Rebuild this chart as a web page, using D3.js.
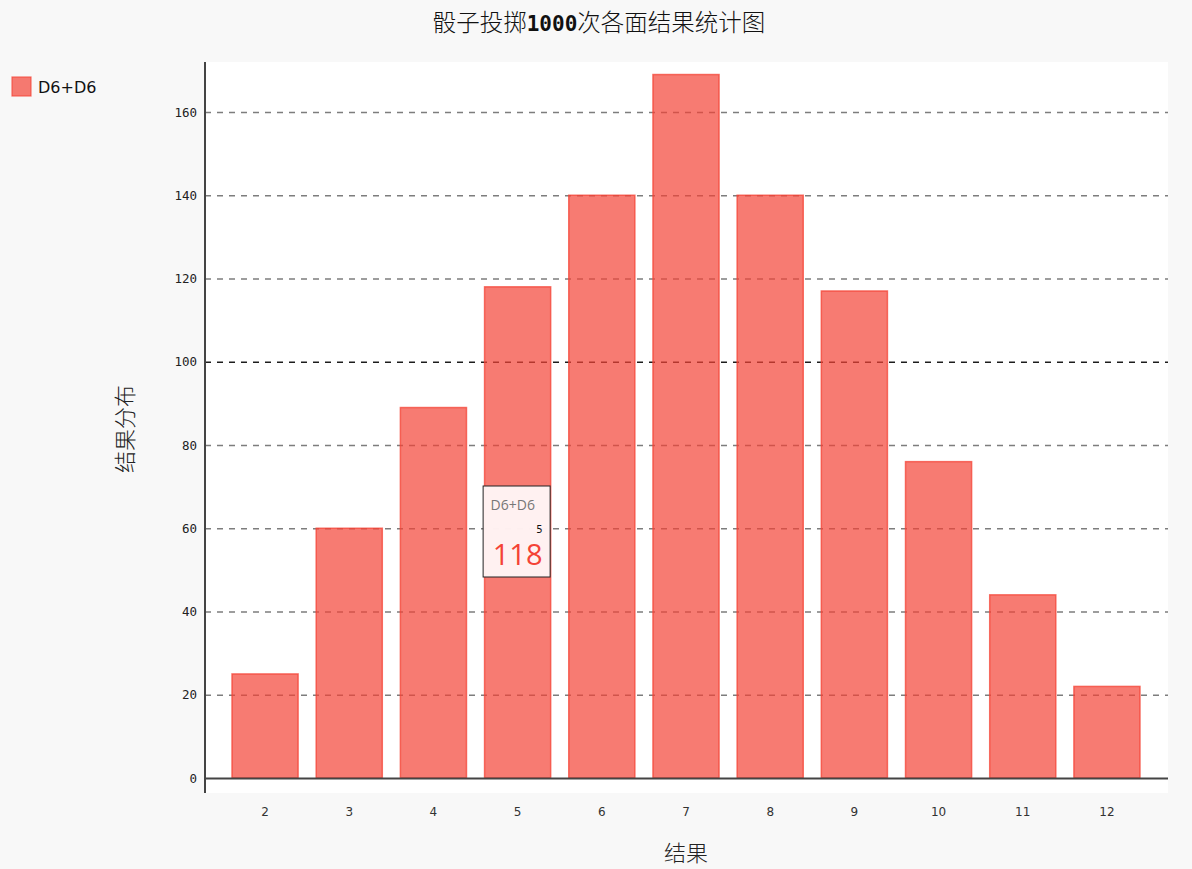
<!DOCTYPE html>
<html><head><meta charset="utf-8">
<script src="https://cdn.jsdelivr.net/npm/d3@7"></script>
<style>body{margin:0;background:#f8f8f8;}</style>
</head><body>
<script>
const categories = ["2","3","4","5","6","7","8","9","10","11","12"];
const values = [25,60,89,118,140,169,140,117,76,44,22];
const yTicks = [0,20,40,60,80,100,120,140,160];
const seriesName = "D6+D6";
const titleParts = ["骰子投掷","1000","次各面结果统计图"];
const xTitle = "结果";
const yTitle = "结果分布";

const W=1192,H=869;
const svg=d3.select("body").append("svg").attr("width",W).attr("height",H).style("background","#f8f8f8");
const plot={x0:205,x1:1168,y0:62,y1:793};
svg.append("rect").attr("x",plot.x0).attr("y",plot.y0).attr("width",plot.x1-plot.x0).attr("height",plot.y1-plot.y0).attr("fill","#ffffff");

const y=d3.scaleLinear().domain([0,160]).range([778,112]);
const x=d3.scaleBand().domain(categories).range([223,1149]).paddingInner(0.215).paddingOuter(0.107);

// grid
const grid=svg.append("g");
yTicks.forEach(t=>{
  if(t===0) return;
  grid.append("line").attr("x1",plot.x0).attr("x2",plot.x1).attr("y1",y(t)+0.5).attr("y2",y(t)+0.5)
   .attr("stroke",t===100?"#111":"#666").attr("stroke-opacity",t===100?0.95:0.85).attr("stroke-width",1.5).attr("stroke-dasharray","6,6");
});

// y axis
const yAxis=d3.axisLeft(y).tickValues(yTicks).tickSize(0).tickPadding(8);
const gy=svg.append("g").attr("transform",`translate(${plot.x0},0)`).call(yAxis);
gy.select(".domain").remove();
gy.selectAll("text").attr("font-family","'DejaVu Sans Mono',monospace").attr("font-size",12.5).attr("fill","#222");
svg.append("line").attr("x1",plot.x0).attr("x2",plot.x0).attr("y1",plot.y0).attr("y2",plot.y1).attr("stroke","#444").attr("stroke-width",2);

// bars
svg.append("g").selectAll("rect").data(values).join("rect")
 .attr("x",(d,i)=>x(categories[i])).attr("width",x.bandwidth())
 .attr("y",d=>y(d)).attr("height",d=>y(0)-y(d))
 .attr("fill","#f44336").attr("fill-opacity",0.7)
 .attr("stroke","#f44336").attr("stroke-opacity",0.75).attr("stroke-width",1.5);

// baseline
svg.append("line").attr("x1",plot.x0).attr("x2",plot.x1).attr("y1",y(0)+0.5).attr("y2",y(0)+0.5).attr("stroke","#444").attr("stroke-width",2);

// x axis
const xAxis=d3.axisBottom(x).tickSize(0).tickPadding(0);
const gx=svg.append("g").attr("transform","translate(0,816)").call(xAxis);
gx.select(".domain").remove();
gx.selectAll("text").attr("font-family","'DejaVu Sans',sans-serif").attr("font-size",12).attr("fill","#333").attr("dy","0");

// titles
const tt=svg.append("text").attr("x",599).attr("y",31).attr("text-anchor","middle").attr("font-size",23.5)
 .attr("font-family","'Noto Sans CJK SC',sans-serif").attr("font-weight",300).attr("fill","#111");
tt.append("tspan").text(titleParts[0]);
tt.append("tspan").attr("font-family","'DejaVu Sans Mono',monospace").attr("font-weight","bold").attr("font-size",21).text(titleParts[1]);
tt.append("tspan").text(titleParts[2]);
svg.append("text").attr("x",686).attr("y",861).attr("text-anchor","middle").attr("font-size",22)
 .attr("font-family","'Noto Sans CJK SC',sans-serif").attr("font-weight",300).attr("fill","#222").text(xTitle);
svg.append("text").attr("transform","translate(133,429) rotate(-90)").attr("text-anchor","middle").attr("font-size",22)
 .attr("font-family","'Noto Sans CJK SC',sans-serif").attr("font-weight",300).attr("fill","#222").text(yTitle);

// legend
svg.append("rect").attr("x",12).attr("y",77).attr("width",19).attr("height",19)
 .attr("fill","#f44336").attr("fill-opacity",0.7).attr("stroke","#f44336").attr("stroke-opacity",0.75).attr("stroke-width",1.2);
svg.append("text").attr("x",38).attr("y",93).attr("font-size",16).attr("font-family","'DejaVu Sans',sans-serif").attr("fill","#111").text(seriesName);

// tooltip for category "5"
const ti=3;
const cx=x(categories[ti])+x.bandwidth()/2;
const tip=svg.append("g");
tip.append("rect").attr("x",cx-34.5).attr("y",486).attr("width",67).attr("height",91)
 .attr("fill","#fff8f8").attr("fill-opacity",0.95).attr("stroke","#222").attr("stroke-width",1);
tip.append("text").attr("x",cx-27).attr("y",510).attr("font-size",14).attr("font-family","'Open Sans','DejaVu Sans',sans-serif").attr("fill","#777").text(seriesName);
tip.append("text").attr("x",cx+25).attr("y",533).attr("text-anchor","end").attr("font-size",10).attr("font-family","'DejaVu Sans',sans-serif").attr("fill","#111").text(categories[ti]);
tip.append("text").attr("x",cx).attr("y",565).attr("text-anchor","middle").attr("font-size",29).attr("font-family","'Open Sans','DejaVu Sans',sans-serif").attr("fill","#f44336").text(values[ti]);
</script>
</body></html>
